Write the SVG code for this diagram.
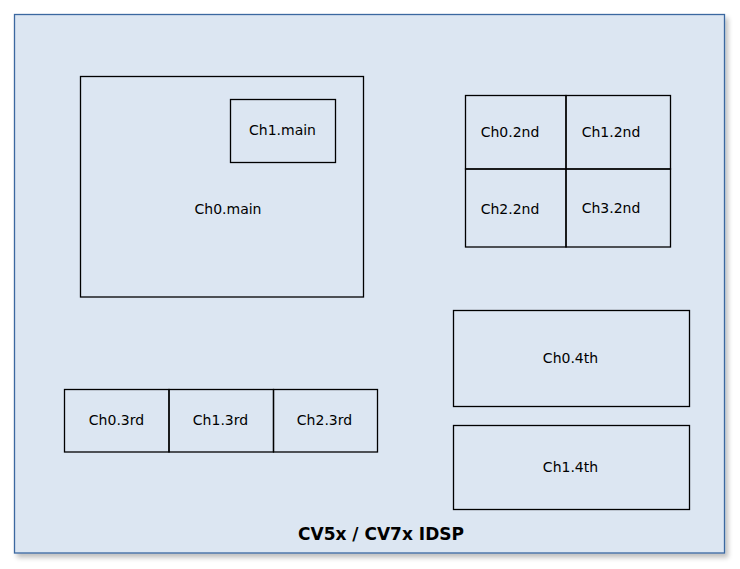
<svg xmlns="http://www.w3.org/2000/svg" width="740" height="569" viewBox="0 0 740 569">
<defs>
<filter id="sh" x="-5%" y="-5%" width="110%" height="110%">
<feGaussianBlur in="SourceAlpha" stdDeviation="2.5"/>
<feOffset dx="3" dy="4" result="b"/>
<feComponentTransfer><feFuncA type="linear" slope="0.25"/></feComponentTransfer>
<feMerge><feMergeNode/><feMergeNode in="SourceGraphic"/></feMerge>
</filter>
</defs>
<style>
.box{fill:none;stroke:#000;stroke-width:1.3}
.lbl{font-family:"DejaVu Sans",Verdana,sans-serif;font-size:14px;fill:#000;text-anchor:middle;dominant-baseline:central}
.title{font-family:"DejaVu Sans",Verdana,sans-serif;font-size:17px;font-weight:bold;fill:#000;text-anchor:middle}
</style>
<rect width="740" height="569" fill="#fff"/>
<g id="idsp">
<rect x="14.5" y="14.5" width="710" height="538.5" fill="#dce6f2" stroke="#3a67a0" stroke-width="1.3" filter="url(#sh)"/>
<text class="title" x="381" y="540">CV5x / CV7x IDSP</text>
</g>
<g id="ch0main"><rect class="box" x="80.5" y="76.5" width="283" height="220.5"/><text class="lbl" x="228" y="209">Ch0.main</text></g>
<g id="ch1main"><rect class="box" x="230.5" y="99.5" width="105" height="63"/><text class="lbl" x="282.5" y="130">Ch1.main</text></g>
<g id="ch0_2nd"><rect class="box" x="465.5" y="95.5" width="100.5" height="73.5"/><text class="lbl" x="510" y="132">Ch0.2nd</text></g>
<g id="ch1_2nd"><rect class="box" x="566" y="95.5" width="104.5" height="73.5"/><text class="lbl" x="611" y="132">Ch1.2nd</text></g>
<g id="ch2_2nd"><rect class="box" x="465.5" y="169" width="100.5" height="78"/><text class="lbl" x="510" y="209">Ch2.2nd</text></g>
<g id="ch3_2nd"><rect class="box" x="566" y="169" width="104.5" height="78"/><text class="lbl" x="611" y="208">Ch3.2nd</text></g>
<g id="ch0_3rd"><rect class="box" x="64.5" y="389.5" width="104.5" height="62.5"/><text class="lbl" x="116.5" y="420">Ch0.3rd</text></g>
<g id="ch1_3rd"><rect class="box" x="169" y="389.5" width="104.5" height="62.5"/><text class="lbl" x="220.5" y="420">Ch1.3rd</text></g>
<g id="ch2_3rd"><rect class="box" x="273.5" y="389.5" width="104" height="62.5"/><text class="lbl" x="324.5" y="420">Ch2.3rd</text></g>
<g id="ch0_4th"><rect class="box" x="453.5" y="310.5" width="236" height="96"/><text class="lbl" x="570.5" y="358">Ch0.4th</text></g>
<g id="ch1_4th"><rect class="box" x="453.5" y="425.5" width="236" height="84"/><text class="lbl" x="570.5" y="467">Ch1.4th</text></g>
<g id="connectors"/>
</svg>
